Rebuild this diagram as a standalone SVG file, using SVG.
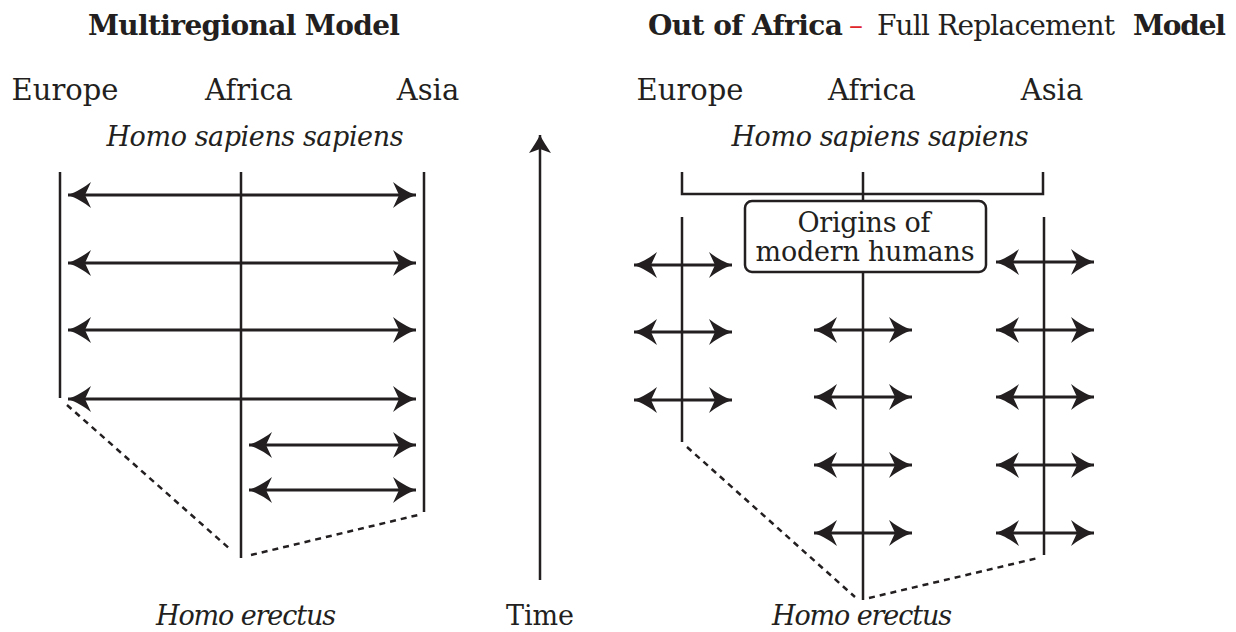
<svg xmlns="http://www.w3.org/2000/svg" width="1236" height="632" viewBox="0 0 1236 632">
<style>
text{font-family:"DejaVu Serif","Liberation Serif",serif;fill:#231f20}
.t{font-size:28px;font-weight:bold}
.r{font-size:28px}
.reg{font-size:29px;text-anchor:middle}
.it{font-size:27px;font-style:italic;text-anchor:middle}
.bx{font-size:27px;text-anchor:middle}
.ln{stroke:#231f20;stroke-width:2.5;fill:none}
.ar{stroke:#231f20;stroke-width:3;fill:none;marker-start:url(#ah);marker-end:url(#ah)}
.dt{stroke:#231f20;stroke-width:2.5;fill:none;stroke-dasharray:6 5}
</style>
<defs>
<marker id="ah" viewBox="-25 -14 27 28" refX="0" refY="0" markerWidth="27" markerHeight="28" markerUnits="userSpaceOnUse" orient="auto-start-reverse">
<path d="M0,0 C-8,-3 -17,-8 -23,-13 L-17,0 L-23,13 C-17,8 -8,3 0,0Z" fill="#231f20"/>
</marker>
<marker id="ah2" viewBox="-24 -13 26 26" refX="0" refY="0" markerWidth="26" markerHeight="26" markerUnits="userSpaceOnUse" orient="auto">
<path d="M0,0 C-6,-3 -12,-7 -18,-11 L-14,0 L-18,11 C-12,7 -6,3 0,0Z" fill="#231f20"/>
</marker>
</defs>

<g id="left-panel">
<text class="t" x="88" y="35" textLength="312">Multiregional Model</text>
<text class="reg" x="65" y="100">Europe</text>
<text class="reg" x="249" y="100">Africa</text>
<text class="reg" x="428" y="100">Asia</text>
<text class="it" x="255" y="146" textLength="297">Homo sapiens sapiens</text>
<text class="it" x="246" y="625" textLength="180">Homo erectus</text>
</g>

<g id="time">
<line class="ln" x1="540" y1="580" x2="540" y2="135" marker-end="url(#ah2)"/>
<text class="reg" x="540" y="625" style="font-size:27px">Time</text>
</g>

<g id="right-panel">
<text x="648" y="35"><tspan class="t" textLength="195">Out of Africa</tspan><tspan class="r" x="849" style="fill:#e0262b">–</tspan><tspan class="r" x="877" textLength="238">Full Replacement</tspan><tspan class="t" x="1133" textLength="93">Model</tspan></text>
<text class="reg" x="690" y="100">Europe</text>
<text class="reg" x="872" y="100">Africa</text>
<text class="reg" x="1052" y="100">Asia</text>
<text class="it" x="880" y="146" textLength="297">Homo sapiens sapiens</text>
<text class="it" x="862" y="625" textLength="180">Homo erectus</text>
</g>

<g id="origins-box">
<rect x="745" y="201" width="241" height="71" rx="7" fill="#fff" stroke="#231f20" stroke-width="2.5"/>
<text class="bx" x="864" y="232" textLength="133">Origins of</text>
<text class="bx" x="865" y="261" textLength="219">modern humans</text>
</g>

<g id="connectors">
<line class="ln" x1="60" y1="172" x2="60" y2="398"/>
<line class="ln" x1="241" y1="172" x2="241" y2="558"/>
<line class="ln" x1="424" y1="172" x2="424" y2="512"/>
<line class="ar" x1="68" y1="195" x2="416" y2="195"/>
<line class="ar" x1="68" y1="263" x2="416" y2="263"/>
<line class="ar" x1="68" y1="330" x2="416" y2="330"/>
<line class="ar" x1="68" y1="399" x2="416" y2="399"/>
<line class="ar" x1="249" y1="445" x2="416" y2="445"/>
<line class="ar" x1="249" y1="490" x2="416" y2="490"/>
<line class="dt" x1="67" y1="405" x2="231" y2="550"/>
<line class="dt" x1="251" y1="555" x2="418" y2="515"/>

<path class="ln" d="M682,172 V194 H1043 V172"/>
<line class="ln" x1="863" y1="172" x2="863" y2="201"/>
<line class="ln" x1="863" y1="272" x2="863" y2="600"/>
<line class="ln" x1="682" y1="217" x2="682" y2="442"/>
<line class="ln" x1="1044" y1="217" x2="1044" y2="555"/>
<line class="ar" x1="634" y1="265" x2="732" y2="265"/>
<line class="ar" x1="634" y1="332" x2="732" y2="332"/>
<line class="ar" x1="634" y1="400" x2="732" y2="400"/>
<line class="ar" x1="814" y1="330" x2="912" y2="330"/>
<line class="ar" x1="814" y1="397" x2="912" y2="397"/>
<line class="ar" x1="814" y1="465" x2="912" y2="465"/>
<line class="ar" x1="814" y1="533" x2="912" y2="533"/>
<line class="ar" x1="996" y1="262" x2="1094" y2="262"/>
<line class="ar" x1="996" y1="330" x2="1094" y2="330"/>
<line class="ar" x1="996" y1="397" x2="1094" y2="397"/>
<line class="ar" x1="996" y1="465" x2="1094" y2="465"/>
<line class="ar" x1="996" y1="533" x2="1094" y2="533"/>
<line class="dt" x1="687" y1="447" x2="855" y2="597"/>
<line class="dt" x1="869" y1="598" x2="1038" y2="558"/>
</g>
</svg>
